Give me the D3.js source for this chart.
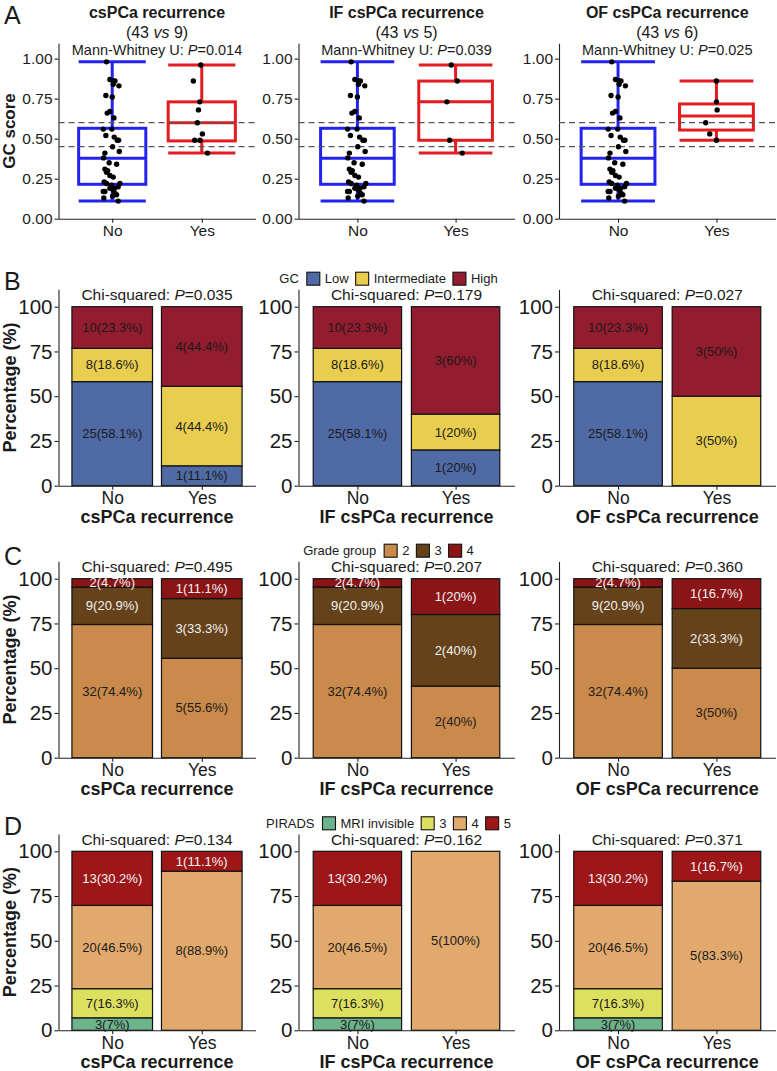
<!DOCTYPE html>
<html>
<head>
<meta charset="utf-8">
<script src="https://cdn.jsdelivr.net/npm/d3@7"></script>
<style>
  body { margin: 0; background: #fff; }
  svg { font-family: "Liberation Sans", Arial, sans-serif; }
</style>
</head>
<body>
<div id="chart"></div>
<script>
// ---- data ----
const groups = ["No", "Yes"];
const outcomes = ["csPCa recurrence", "IF csPCa recurrence", "OF csPCa recurrence"];
const groupN = [[43, 9], [43, 5], [43, 6]];
const mwP = ["0.014", "0.039", "0.025"];
const cutoffs = [0.45, 0.6];
const scoreTicks = [0, 0.25, 0.5, 0.75, 1];

// GC score of the 43 "No" patients (same in all three panels)
const noScores = [0.98, 0.87, 0.86, 0.86, 0.84, 0.83, 0.77, 0.76, 0.67, 0.66, 0.63,
  0.56, 0.56, 0.52, 0.51, 0.49, 0.49, 0.45, 0.42, 0.41, 0.38, 0.35, 0.34, 0.31,
  0.30, 0.29, 0.27, 0.26, 0.23, 0.22, 0.22, 0.21, 0.20, 0.19, 0.19, 0.18, 0.17,
  0.17, 0.16, 0.15, 0.14, 0.13, 0.11];
// horizontal jitter, in category units, as seen in the picture
const noJitter = [-0.064, -0.026, 0.011, 0.03, 0.011, 0.075, -0.071, 0, -0.026, -0.056, 0.019,
  -0.1, -0.004, -0.071, 0.022, 0.056, 0.071, 0.004, 0.079, -0.082, -0.097, -0.034, 0.049, -0.082,
  -0.052, -0.064, -0.026, 0.011, -0.09, -0.064, 0.086, -0.007, 0.067, 0.026, -0.026, 0.011, -0.1,
  -0.082, 0.03, 0.049, 0.004, -0.094, 0.067];
const yesScores = [
  [0.96, 0.86, 0.73, 0.68, 0.60, 0.53, 0.49, 0.49, 0.41],
  [0.96, 0.86, 0.73, 0.49, 0.41],
  [0.86, 0.73, 0.68, 0.60, 0.53, 0.49]
];
const yesJitter = [
  [-0.011, -0.094, -0.022, -0.037, -0.049, 0.007, -0.079, -0.019, 0.064],
  [-0.044, 0.017, -0.088, -0.061, 0.068],
  [0, 0, 0.007, -0.109, -0.068, 0]
];
// [min, q1, median, q3, max]
const noBox = [0.11, 0.215, 0.377, 0.565, 0.98];
const yesBox = [
  [0.41, 0.486, 0.60, 0.73, 0.96],
  [0.41, 0.49, 0.73, 0.86, 0.96],
  [0.49, 0.554, 0.642, 0.717, 0.86]
];

// stacked bars
const gcLevels = ["Low", "Intermediate", "High"];
const gcNo = [25, 8, 10];
const gcNoPct = [58.1, 18.6, 23.3];
const gcYes = [[1, 4, 4], [1, 1, 3], [0, 3, 3]];
const gcYesPct = [[11.1, 44.4, 44.4], [20, 20, 60], [0, 50, 50]];
const gcP = ["0.035", "0.179", "0.027"];

const gradeLevels = ["2", "3", "4"];
const gradeNo = [32, 9, 2];
const gradeNoPct = [74.4, 20.9, 4.7];
const gradeYes = [[5, 3, 1], [2, 2, 1], [3, 2, 1]];
const gradeYesPct = [[55.6, 33.3, 11.1], [40, 40, 20], [50, 33.3, 16.7]];
const gradeP = ["0.495", "0.207", "0.360"];

const piradsLevels = ["MRI invisible", "3", "4", "5"];
const piradsNo = [3, 7, 20, 13];
const piradsNoPct = [7, 16.3, 46.5, 30.2];
const piradsYes = [[0, 0, 8, 1], [0, 0, 5, 0], [0, 0, 5, 1]];
const piradsYesPct = [[0, 0, 88.9, 11.1], [0, 0, 100, 0], [0, 0, 83.3, 16.7]];
const piradsP = ["0.134", "0.162", "0.371"];

const pctTicks = [0, 25, 50, 75, 100];

// ---- layout ----
const W = 777, H = 1071;
const cols = [[58.5, 255.5], [298.5, 514.5], [559, 775.5]];
const axisCol = "#222", txtCol = "#1a1a1a";

const svg = d3.select("#chart").append("svg")
  .attr("width", W).attr("height", H);

let xScale = (c) => d3.scalePoint().domain(groups).range(cols[c]).padding(0.6);

let drawAxes = (g, x, y, ticks, fmt, ySize, xSize) => {
  var ya = g.append("g")
    .attr("transform", `translate(${x.range()[0]},0)`)
    .call(d3.axisLeft(y).tickValues(ticks).tickFormat(fmt).tickSize(4).tickPadding(2).tickSizeOuter(0));
  ya.selectAll("text").attr("fill", txtCol).style("font-size", ySize + "px");
  var xa = g.append("g")
    .attr("transform", `translate(0,${y.range()[0]})`)
    .call(d3.axisBottom(x).tickSize(4).tickPadding(2).tickSizeOuter(0));
  xa.selectAll("text").attr("fill", txtCol).style("font-size", xSize + "px");
  g.selectAll(".domain, .tick line").attr("stroke", axisCol).attr("stroke-width", 1.1);
};

// panel letters
[["A", 24], ["B", 290], ["C", 565], ["D", 835]].forEach(([l, yy]) => {
  svg.append("text").attr("x", 4).attr("y", yy).text(l)
    .style("font-size", "25px").attr("fill", txtCol);
});

// ---- row A: box plots ----
var yA = d3.scaleLinear().domain([0, 1.096]).range([218.7, 43.3]);
var boxCol = { No: "#2323f0", Yes: "#e31c1f" };

outcomes.forEach((name, c) => {
  var x = xScale(c), step = x.step(), g = svg.append("g");
  var cx = (cols[c][0] + cols[c][1]) / 2;

  var t = g.append("text").attr("text-anchor", "middle").attr("fill", txtCol);
  t.append("tspan").attr("x", cx).attr("y", 18).text(name)
    .style("font-weight", "bold").style("font-size", "16px");
  var t2 = g.append("text").attr("x", cx).attr("y", 38).attr("text-anchor", "middle")
    .attr("fill", txtCol).style("font-size", "16px");
  t2.append("tspan").text(`(${groupN[c][0]} `);
  t2.append("tspan").text("vs").style("font-style", "italic");
  t2.append("tspan").text(` ${groupN[c][1]})`);
  var t3 = g.append("text").attr("x", cx).attr("y", 54.5).attr("text-anchor", "middle")
    .attr("fill", txtCol).style("font-size", "14.5px");
  t3.append("tspan").text("Mann-Whitney U: ");
  t3.append("tspan").text("P").style("font-style", "italic");
  t3.append("tspan").text("=" + mwP[c]);

  drawAxes(g, x, yA, scoreTicks, d3.format(".2f"), 15.5, 15.5);

  // boxes
  var boxes = [{ grp: "No", s: noBox }, { grp: "Yes", s: yesBox[c] }];
  var bw = 0.75 * step;
  boxes.forEach((b) => {
    var bx = x(b.grp), col = boxCol[b.grp], s = b.s;
    var bg = g.append("g").attr("stroke", col).attr("stroke-width", 3).attr("fill", "none");
    bg.append("line").attr("x1", bx).attr("x2", bx).attr("y1", yA(s[0])).attr("y2", yA(s[1]));
    bg.append("line").attr("x1", bx).attr("x2", bx).attr("y1", yA(s[3])).attr("y2", yA(s[4]));
    [s[0], s[4]].forEach((v) => {
      bg.append("line").attr("x1", bx - bw / 2).attr("x2", bx + bw / 2)
        .attr("y1", yA(v)).attr("y2", yA(v));
    });
    bg.append("rect").attr("x", bx - bw / 2).attr("width", bw)
      .attr("y", yA(s[3])).attr("height", yA(s[1]) - yA(s[3]));
    bg.append("line").attr("x1", bx - bw / 2).attr("x2", bx + bw / 2)
      .attr("y1", yA(s[2])).attr("y2", yA(s[2]));
  });

  // cutoff lines
  g.selectAll(".cut").data(cutoffs).enter().append("line")
    .attr("x1", cols[c][0]).attr("x2", cols[c][1])
    .attr("y1", (d) => yA(d)).attr("y2", (d) => yA(d))
    .attr("stroke", "#555").attr("stroke-width", 1.3).attr("stroke-dasharray", "6,4");

  // points
  var pts = noScores.map((v, i) => ({ grp: "No", v: v, j: noJitter[i] }))
    .concat(yesScores[c].map((v, i) => ({ grp: "Yes", v: v, j: yesJitter[c][i] })));
  g.selectAll(".pt").data(pts).enter().append("circle")
    .attr("cx", (d) => x(d.grp) + d.j * step)
    .attr("cy", (d) => yA(d.v))
    .attr("r", 2.7).attr("fill", "#000");
});

svg.append("text")
  .attr("transform", `translate(15,${(218.7 + 43.3) / 2}) rotate(-90)`)
  .attr("text-anchor", "middle").attr("fill", txtCol)
  .style("font-weight", "bold").style("font-size", "17px").text("GC score");

// ---- rows B-D: stacked bars ----
var barRows = [
  { y0: 485.7, title: "GC", levels: gcLevels, no: gcNo, noPct: gcNoPct, yes: gcYes, yesPct: gcYesPct, p: gcP,
    colors: ["#4f6aa4", "#e8cd4e", "#931c2f"], lab: ["#1a1a1a", "#1a1a1a", "#1a1a1a"] },
  { y0: 757.7, title: "Grade group", levels: gradeLevels, no: gradeNo, noPct: gradeNoPct, yes: gradeYes, yesPct: gradeYesPct, p: gradeP,
    colors: ["#c98a4b", "#65421a", "#8b1516"], lab: ["#1a1a1a", "#f2f2f2", "#f2f2f2"] },
  { y0: 1030.3, title: "PIRADS", levels: piradsLevels, no: piradsNo, noPct: piradsNoPct, yes: piradsYes, yesPct: piradsYesPct, p: piradsP,
    colors: ["#6db48d", "#dddf5f", "#e1a96b", "#9d1719"], lab: ["#1a1a1a", "#1a1a1a", "#1a1a1a", "#f2f2f2"] }
];

barRows.forEach((row) => {
  var y = d3.scaleLinear().domain([0, 109.7]).range([row.y0, row.y0 - 1.79 * 109.7]);

  outcomes.forEach((name, c) => {
    var x = xScale(c), step = x.step(), g = svg.append("g");
    var cx = (cols[c][0] + cols[c][1]) / 2, bw = 0.9 * step;

    var bars = [
      { grp: "No", n: row.no, pct: row.noPct },
      { grp: "Yes", n: row.yes[c], pct: row.yesPct[c] }
    ];
    var segs = [];
    bars.forEach((b) => {
      var tot = d3.sum(b.n), cum = 0;
      b.n.forEach((n, k) => {
        segs.push({ grp: b.grp, k: k, n: n, pct: b.pct[k],
          lo: (cum / tot) * 100, hi: ((cum + n) / tot) * 100 });
        cum += n;
      });
    });
    var vis = segs.filter((d) => d.n > 0);

    g.selectAll(".seg").data(vis).enter().append("rect")
      .attr("x", (d) => x(d.grp) - bw / 2).attr("width", bw)
      .attr("y", (d) => y(d.hi)).attr("height", (d) => y(d.lo) - y(d.hi))
      .attr("fill", (d) => row.colors[d.k])
      .attr("stroke", "#111").attr("stroke-width", 1.2);

    g.selectAll(".lbl").data(vis).enter().append("text")
      .attr("x", (d) => x(d.grp)).attr("y", (d) => y((d.lo + d.hi) / 2) + 4.5)
      .attr("text-anchor", "middle").attr("fill", (d) => row.lab[d.k])
      .style("font-size", "13px")
      .text((d) => `${d.n}(${d.pct}%)`);

    drawAxes(g, x, y, pctTicks, d3.format("d"), 20.5, 17.5);

    var t = g.append("text").attr("x", cx).attr("y", row.y0 - 185.4)
      .attr("text-anchor", "middle").attr("fill", txtCol).style("font-size", "15.5px");
    t.append("tspan").text("Chi-squared: ");
    t.append("tspan").text("P").style("font-style", "italic");
    t.append("tspan").text("=" + row.p[c]);

    g.append("text").attr("x", cx).attr("y", row.y0 + 37.7)
      .attr("text-anchor", "middle").attr("fill", txtCol)
      .style("font-weight", "bold").style("font-size", "18px").text(name);
  });

  svg.append("text")
    .attr("transform", `translate(16,${row.y0 - 1.79 * 109.7 / 2}) rotate(-90)`)
    .attr("text-anchor", "middle").attr("fill", txtCol)
    .style("font-weight", "bold").style("font-size", "18px").text("Percentage (%)");

  // legend, centred on the figure
  var lg = svg.append("g"), ly = row.y0 - 202.5, cur = 0;
  var lt = lg.append("text").attr("x", 0).attr("y", ly).attr("fill", txtCol)
    .style("font-size", "13px").text(row.title);
  cur = lt.node().getComputedTextLength() + 8;
  row.levels.forEach((lv, k) => {
    lg.append("rect").attr("x", cur).attr("y", ly - 11).attr("width", 13).attr("height", 13)
      .attr("fill", row.colors[k]).attr("stroke", "#111").attr("stroke-width", 1.1);
    cur += 18;
    var tt = lg.append("text").attr("x", cur).attr("y", ly).attr("fill", txtCol)
      .style("font-size", "13px").text(lv);
    cur += tt.node().getComputedTextLength() + 7;
  });
  lg.attr("transform", `translate(${388.5 - (cur - 7) / 2},0)`);
});
</script>
</body>
</html>
